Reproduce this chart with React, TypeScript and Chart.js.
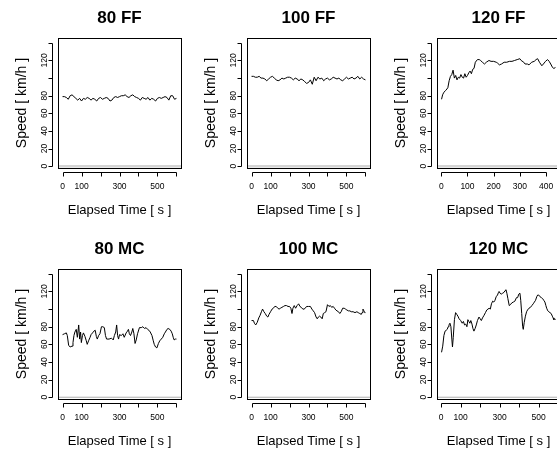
import React, { useEffect, useRef } from "react";
import { Chart, registerables } from "chart.js";
Chart.register(...registerables);

const FONT = "'Liberation Sans', Arial, Helvetica, sans-serif";

// ---------- axis ticks ----------
const yTicks = [0, 20, 40, 60, 80, 100, 120, 140];
const yTickLabels = [0, 20, 40, 60, 80, 120];
const yMin = -2;
const yMax = 145.5;
const xTicks600 = [0, 100, 200, 300, 400, 500, 600];
const xTickLabels600 = [0, 100, 300, 500];
const xTicks400 = [0, 100, 200, 300, 400];
const xTickLabels400 = [0, 100, 200, 300, 400];

// ---------- series ----------
const time10s = [0, 10, 20, 30, 40, 50, 60, 70, 80, 90, 100, 110, 120, 130, 140, 150, 160, 170, 180, 190, 200,
  210, 220, 230, 240, 250, 260, 270, 280, 290, 300, 310, 320, 330, 340, 350, 360, 370, 380, 390, 400,
  410, 420, 430, 440, 450, 460, 470, 480, 490, 500, 510, 520, 530, 540, 550, 560, 570, 580, 590, 600];

const ff80Speed = [79, 79, 78, 76, 80, 81, 79, 77, 75, 77, 74, 77, 76, 78, 77, 75, 77, 76, 74, 77, 78,
  76, 77, 78, 77, 74, 75, 78, 79, 78, 79, 80, 80, 81, 79, 78, 80, 81, 79, 78, 77,
  75, 78, 77, 76, 78, 75, 77, 76, 74, 77, 78, 77, 78, 79, 78, 75, 80, 80, 76, 77];

const ff100Speed = [102, 102, 101, 101, 102, 100, 100, 99, 97, 99, 101, 102, 100, 98, 97, 98, 100, 99, 100, 101, 101,
  100, 98, 100, 99, 97, 99, 98, 96, 94, 95, 98, 93, 101, 97, 101, 99, 100, 97, 99, 100,
  98, 99, 101, 100, 99, 100, 98, 97, 99, 101, 99, 100, 101, 99, 100, 102, 99, 101, 99, 98];

const ff120Time = [1, 5, 10, 17, 25, 30, 35, 40, 45, 50, 55, 60, 65, 70, 75, 80, 85, 90, 95, 100, 105, 110, 115, 120,
  125, 130, 138, 145, 150, 157, 165, 172, 182, 190, 200, 210, 215, 222, 230, 240, 250, 260, 270, 280, 290, 300,
  305, 315, 320, 329, 335, 345, 355, 362, 368, 375, 384, 390, 398, 406, 412, 418, 425, 430, 436];
const ff120Speed = [76, 81, 84, 86, 89, 97, 102, 104, 109, 100, 103, 98, 101, 100, 104, 101, 100, 105, 101, 103, 106, 108, 105, 110,
  111, 118, 121, 121, 120, 118, 116, 118, 120, 119, 119, 118, 117, 115, 116, 118, 118, 119, 119, 120, 121, 122,
  120, 118, 116, 116, 115, 118, 119, 121, 122, 118, 114, 116, 119, 121, 119, 116, 112, 111, 112];

const mc80Time = [0, 10, 20, 25, 32, 40, 50, 55, 60, 65, 72, 78, 85, 90, 95, 99, 105, 110, 118, 125, 130, 137, 145, 150,
  158, 165, 172, 178, 183, 190, 197, 205, 212, 220, 226, 232, 245, 258, 267, 273, 280, 285, 290, 295, 300, 310,
  318, 325, 335, 342, 347, 352, 358, 365, 370, 376, 382, 388, 395, 405, 415, 423, 432, 440, 448, 455, 462, 471,
  478, 483, 490, 497, 505, 512, 520, 528, 536, 542, 550, 556, 565, 572, 578, 583, 588, 594, 600];
const mc80Speed = [71, 72, 73, 70, 59, 57, 58, 62, 70, 74, 77, 68, 82, 66, 74, 62, 70, 73, 69, 64, 60, 64, 68, 71,
  73, 75, 76, 69, 66, 70, 72, 80, 80, 79, 70, 66, 66, 67, 65, 70, 74, 82, 70, 66, 71, 70,
  72, 68, 73, 75, 77, 72, 70, 74, 78, 72, 61, 65, 72, 79, 79, 80, 78, 79, 77, 76, 74, 70,
  64, 60, 57, 56, 61, 64, 66, 68, 72, 74, 77, 78, 77, 75, 72, 68, 65, 66, 66];

const mc100Time = [0, 10, 15, 22, 30, 38, 45, 52, 58, 65, 72, 80, 86, 92, 100, 108, 115, 122, 130, 138, 145, 152, 160, 168,
  176, 184, 192, 200, 207, 213, 218, 225, 232, 240, 248, 255, 262, 270, 278, 285, 292, 300, 310, 318, 325, 332,
  340, 346, 352, 358, 365, 372, 378, 385, 392, 400, 408, 415, 422, 430, 437, 444, 450, 458, 465, 472, 480, 488,
  495, 502, 510, 518, 525, 535, 545, 555, 562, 570, 578, 582, 587, 592, 596, 600];
const mc100Speed = [87, 87, 84, 82, 85, 90, 93, 97, 100, 97, 95, 92, 91, 94, 97, 100, 101, 103, 103, 101, 100, 101, 102, 103,
  104, 104, 103, 103, 101, 95, 101, 104, 101, 104, 106, 103, 102, 100, 100, 102, 103, 103, 103, 100, 98, 96,
  91, 89, 91, 92, 91, 89, 95, 96, 97, 105, 103, 104, 102, 103, 101, 99, 98, 97, 95, 97, 101, 101,
  100, 99, 98, 98, 97, 97, 96, 97, 96, 95, 94, 96, 100, 98, 96, 96];

const mc120Time = [2, 8, 14, 20, 26, 31, 36, 40, 45, 50, 55, 58, 62, 68, 74, 80, 86, 92, 100, 108, 114, 120, 126, 132,
  137, 142, 147, 152, 158, 163, 168, 174, 180, 186, 194, 200, 206, 212, 220, 227, 234, 240, 246, 252, 258, 264,
  270, 276, 282, 289, 294, 297, 302, 308, 315, 322, 328, 332, 337, 342, 349, 355, 362, 370, 378, 386, 392, 398,
  404, 408, 413, 418, 421, 426, 432, 438, 443, 450, 458, 465, 472, 478, 484, 490, 495, 500, 507, 514, 520, 526,
  532, 537, 541, 547, 552, 558, 564, 570, 574, 578, 582, 586];
const mc120Speed = [51, 58, 70, 75, 76, 77, 80, 82, 84, 80, 65, 57, 68, 88, 96, 94, 92, 89, 87, 84, 86, 82, 83, 80,
  88, 86, 84, 87, 83, 78, 75, 78, 82, 87, 91, 89, 87, 90, 93, 96, 99, 100, 101, 100, 106, 109,
  108, 110, 114, 116, 119, 120, 118, 117, 118, 119, 121, 122, 118, 112, 104, 105, 107, 108, 109, 113, 113, 117,
  118, 110, 95, 80, 77, 85, 92, 97, 99, 101, 102, 104, 106, 108, 110, 114, 116, 116, 114, 113, 112, 110,
  108, 104, 101, 98, 97, 96, 95, 92, 90, 88, 89, 88];

const titles = ["80 FF", "100 FF", "120 FF", "80 MC", "100 MC", "120 MC"];

type PanelDef = {
  title: string;
  time: number[];
  speed: number[];
  xTicks: number[];
  xLabels: number[];
  zeroColor: string;
  zeroWidth: number;
};

const panels: PanelDef[] = [
  { title: titles[0], time: time10s, speed: ff80Speed, xTicks: xTicks600, xLabels: xTickLabels600, zeroColor: "#d4d4d4", zeroWidth: 2.5 },
  { title: titles[1], time: time10s, speed: ff100Speed, xTicks: xTicks600, xLabels: xTickLabels600, zeroColor: "#d4d4d4", zeroWidth: 2.5 },
  { title: titles[2], time: ff120Time, speed: ff120Speed, xTicks: xTicks400, xLabels: xTickLabels400, zeroColor: "#d4d4d4", zeroWidth: 2.5 },
  { title: titles[3], time: mc80Time, speed: mc80Speed, xTicks: xTicks600, xLabels: xTickLabels600, zeroColor: "#b0b0b0", zeroWidth: 1 },
  { title: titles[4], time: mc100Time, speed: mc100Speed, xTicks: xTicks600, xLabels: xTickLabels600, zeroColor: "#b0b0b0", zeroWidth: 1 },
  { title: titles[5], time: mc120Time, speed: mc120Speed, xTicks: xTicks600, xLabels: xTickLabels600, zeroColor: "#b0b0b0", zeroWidth: 1 },
];

const PANEL_W = 190;
const PANEL_H = 231;
const COL_STEP = 189.3;
const ROW_STEP = 231;
const AREA_LEFT = 58;
const AREA_W = 123;
const AREA_BOTTOM = 168;
const AX_GAP = 4;
const Y_GAP = 6;
const TICK_LEN = 4;

const rAxesPlugin = {
  id: "rAxes",
  beforeDatasetsDraw(chart: any, _args: any, opts: any) {
    const { ctx, chartArea: ca, scales } = chart;
    const y0 = scales.y.getPixelForValue(0);
    ctx.save();
    ctx.strokeStyle = opts.zeroColor;
    ctx.lineWidth = opts.zeroWidth;
    ctx.beginPath();
    ctx.moveTo(ca.left, y0);
    ctx.lineTo(ca.right, y0);
    ctx.stroke();
    ctx.restore();
  },
  afterDraw(chart: any) {
    const { ctx, chartArea: ca, scales } = chart;
    const xs = scales.x;
    const ys = scales.y;
    ctx.save();
    ctx.strokeStyle = "#000";
    ctx.lineWidth = 1;
    const l = Math.round(ca.left) + 0.5;
    const t = Math.round(ca.top) + 0.5;
    const r = Math.round(ca.right) + 0.5;
    const b = Math.round(ca.bottom) + 0.5;
    ctx.strokeRect(l, t, r - l, b - t);
    // x axis
    const ay = b + AX_GAP;
    const xp = xs.ticks.map((tk: any) => Math.round(xs.getPixelForValue(tk.value)) + 0.5);
    ctx.beginPath();
    ctx.moveTo(xp[0], ay);
    ctx.lineTo(xp[xp.length - 1], ay);
    xp.forEach((px: number) => {
      ctx.moveTo(px, ay);
      ctx.lineTo(px, ay + TICK_LEN);
    });
    // y axis
    const ax = l - Y_GAP;
    const yp = ys.ticks.map((tk: any) => Math.round(ys.getPixelForValue(tk.value)) + 0.5);
    ctx.moveTo(ax, yp[0]);
    ctx.lineTo(ax, yp[yp.length - 1]);
    yp.forEach((py: number) => {
      ctx.moveTo(ax, py);
      ctx.lineTo(ax - TICK_LEN, py);
    });
    ctx.stroke();
    ctx.restore();
  },
};

function Panel({ def, left, top }: { def: PanelDef; left: number; top: number }) {
  const ref = useRef<HTMLCanvasElement | null>(null);
  useEffect(() => {
    if (!ref.current) return;
    const tMin = Math.min(...def.time);
    const tMax = Math.max(...def.time);
    const pad = (tMax - tMin) * 0.04;
    const points = def.time.map((t, i) => ({ x: t, y: def.speed[i] }));
    const chart = new Chart(ref.current, {
      type: "line",
      data: {
        datasets: [
          {
            data: points,
            borderColor: "#000",
            borderWidth: 1,
            pointRadius: 0,
            tension: 0,
            fill: false,
          },
        ],
      },
      options: {
        animation: false,
        responsive: false,
        events: [],
        layout: { padding: { left: 0, top: 0, bottom: 0, right: PANEL_W - AREA_LEFT - AREA_W } },
        plugins: {
          legend: { display: false },
          tooltip: { enabled: false },
          title: {
            display: true,
            text: def.title,
            fullSize: false,
            color: "#000",
            font: { family: FONT, size: 17, weight: "bold", lineHeight: 1 },
            padding: { top: 9.5, bottom: 11.5 },
          },
          rAxes: { zeroColor: def.zeroColor, zeroWidth: def.zeroWidth },
        } as any,
        scales: {
          x: {
            type: "linear",
            min: tMin - pad,
            max: tMax + pad,
            afterBuildTicks: (s: any) => {
              s.ticks = def.xTicks.map((v) => ({ value: v }));
            },
            afterFit: (s: any) => {
              s.height = PANEL_H - AREA_BOTTOM;
              s.paddingLeft = 0;
              s.paddingRight = 0;
            },
            grid: { display: false, drawTicks: false },
            border: { display: false },
            ticks: {
              autoSkip: false,
              minRotation: 0,
              maxRotation: 0,
              padding: 14.5,
              color: "#000",
              font: { family: FONT, size: 8.5, lineHeight: 1 },
              callback: (v: any) => (def.xLabels.includes(Number(v)) ? String(v) : ""),
            },
            title: {
              display: true,
              text: "Elapsed Time [ s ]",
              color: "#000",
              font: { family: FONT, size: 13, lineHeight: 1 },
              padding: { top: 0, bottom: 14.5 },
            },
          },
          y: {
            type: "linear",
            min: yMin,
            max: yMax,
            afterBuildTicks: (s: any) => {
              s.ticks = yTicks.map((v) => ({ value: v }));
            },
            afterFit: (s: any) => {
              s.width = AREA_LEFT;
              s.paddingTop = 0;
              s.paddingBottom = 0;
            },
            grid: { display: false, drawTicks: false },
            border: { display: false },
            ticks: {
              autoSkip: false,
              minRotation: 90,
              maxRotation: 90,
              crossAlign: "center",
              padding: 6.5,
              color: "#000",
              font: { family: FONT, size: 8.5, lineHeight: 1 },
              callback: (v: any) => (yTickLabels.includes(Number(v)) ? String(v) : ""),
            },
            title: {
              display: true,
              text: "Speed [ km/h ]",
              color: "#000",
              font: { family: FONT, size: 14, lineHeight: 1 },
              padding: { top: 15, bottom: 0 },
            },
          },
        },
      },
      plugins: [rAxesPlugin as any],
    });
    return () => chart.destroy();
  }, [def]);
  return (
    <canvas
      ref={ref}
      width={PANEL_W}
      height={PANEL_H}
      style={{ position: "absolute", left, top, width: PANEL_W, height: PANEL_H }}
    />
  );
}

export default function App() {
  return (
    <div
      style={{
        position: "fixed",
        left: 0,
        top: 0,
        width: 557,
        height: 450,
        overflow: "hidden",
        background: "#fff",
      }}
    >
      {panels.map((p, i) => (
        <Panel
          key={p.title}
          def={p}
          left={Math.round((i % 3) * COL_STEP)}
          top={Math.floor(i / 3) * ROW_STEP}
        />
      ))}
    </div>
  );
}
